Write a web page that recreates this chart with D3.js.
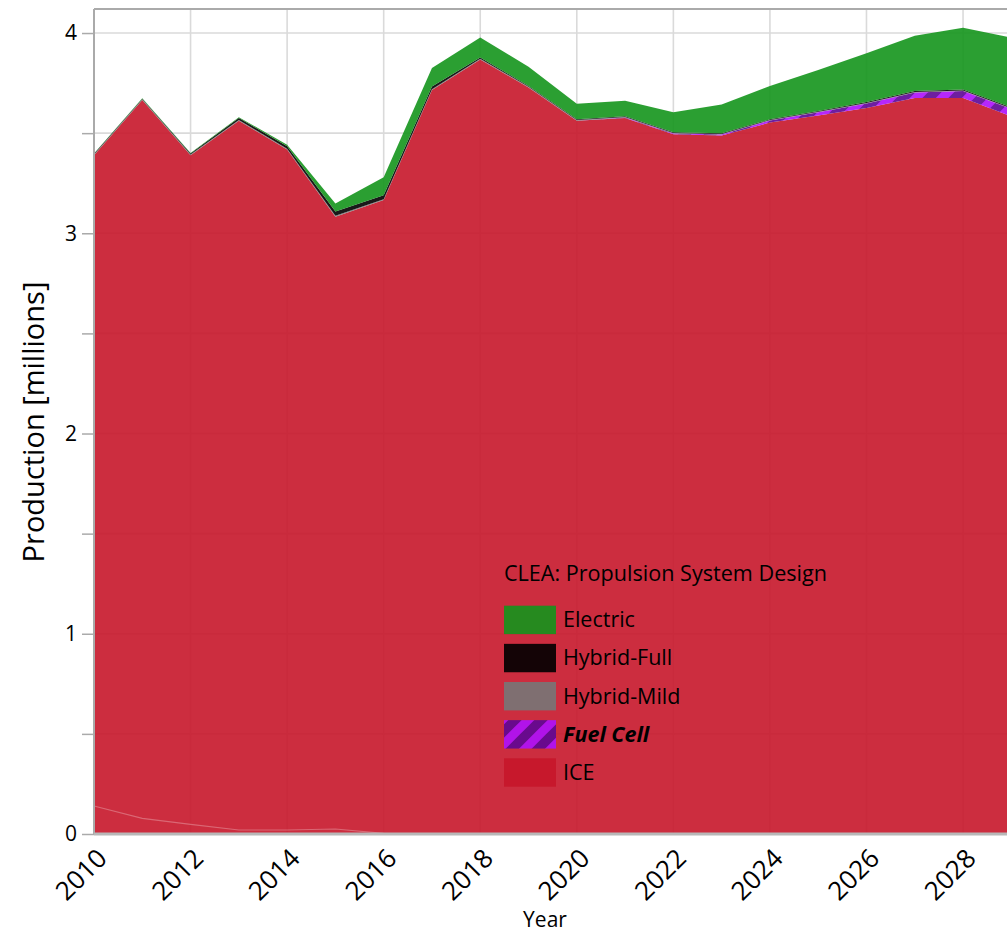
<!DOCTYPE html>
<html>
<head>
<meta charset="utf-8">
<script src="https://cdn.jsdelivr.net/npm/d3@7"></script>
<style>
  html, body { margin: 0; padding: 0; background: #fff; overflow: hidden; }
  svg { display: block; font-family: "Open Sans", "Noto Sans", sans-serif; }
</style>
</head>
<body>
<svg id="chart" width="1007" height="933"></svg>
<script>
// ---------------- data ----------------
const years = [2010, 2011, 2012, 2013, 2014, 2015, 2016, 2017, 2018, 2019,
               2020, 2021, 2022, 2023, 2024, 2025, 2026, 2027, 2028, 2029];
const seriesKeys = ["ICE", "Fuel Cell", "Hybrid-Mild", "Hybrid-Full", "Electric"]; // stack order bottom -> top
const ice        = [3.39, 3.665, 3.39, 3.562, 3.418, 3.083, 3.166, 3.715, 3.868, 3.728,
                    3.562, 3.576, 3.494, 3.488, 3.553, 3.588, 3.626, 3.675, 3.676, 3.583];
const fuelCell   = [0, 0, 0, 0, 0, 0, 0, 0, 0, 0,
                    0, 0.002, 0.004, 0.005, 0.01, 0.016, 0.022, 0.028, 0.034, 0.038];
const hybridMild = [0.004, 0.004, 0.004, 0.004, 0.004, 0.004, 0.004, 0.004, 0.004, 0.004,
                    0.004, 0.003, 0.003, 0.003, 0.003, 0.003, 0.003, 0.003, 0.003, 0.003];
const hybridFull = [0.003, 0.003, 0.004, 0.01, 0.012, 0.022, 0.02, 0.014, 0.006, 0.004,
                    0.003, 0.003, 0.003, 0.003, 0.003, 0.004, 0.004, 0.005, 0.005, 0.005];
const electric   = [0.002, 0.002, 0.003, 0.004, 0.008, 0.04, 0.09, 0.092, 0.1, 0.096,
                    0.078, 0.078, 0.1, 0.144, 0.166, 0.204, 0.244, 0.275, 0.308, 0.348];
// faint sub-band drawn inside the ICE layer
const iceLowerBand = [0.14, 0.078, 0.048, 0.02, 0.02, 0.025, 0.003, 0, 0, 0,
                      0, 0, 0, 0, 0, 0, 0, 0, 0, 0];
const yTicksMajor = [0, 1, 2, 3, 4];
const yGridValues = [0.5, 1, 1.5, 2, 2.5, 3, 3.5, 4];
const xTickYears = [2010, 2012, 2014, 2016, 2018, 2020, 2022, 2024, 2026, 2028];
const legendItems = ["Electric", "Hybrid-Full", "Hybrid-Mild", "Fuel Cell", "ICE"];
const legendTitle = "CLEA: Propulsion System Design";

// ---------------- layout ----------------
const colors = {
  "ICE": "#c6162a",
  "Fuel Cell": "url(#fcPattern)",
  "Hybrid-Mild": "#777777",
  "Hybrid-Full": "#000000",
  "Electric": "#14951c"
};
const svg = d3.select("#chart");
const plotLeft = 94, plotTop = 9, plotBottom = 834;
const x = d3.scaleLinear().domain([2010, 2029]).range([plotLeft, plotLeft + 48.28 * 19]);
const y = d3.scaleLinear().domain([0, 4.12]).range([plotBottom, plotTop]);

// pattern for Fuel Cell
const defs = svg.append("defs");
const pat = defs.append("pattern").attr("id", "fcPattern")
  .attr("patternUnits", "userSpaceOnUse").attr("width", 26).attr("height", 26);
pat.append("rect").attr("width", 26).attr("height", 26).attr("fill", "#5e0696");
pat.append("path").attr("d", "M-6.5,6.5 L6.5,-6.5 M0,26 L26,0 M19.5,32.5 L32.5,19.5")
  .attr("stroke", "#ae10fb").attr("stroke-width", 9);

// gridlines
svg.append("g").selectAll("line").data(yGridValues).join("line")
  .attr("x1", plotLeft).attr("x2", 1007).attr("y1", d => y(d)).attr("y2", d => y(d))
  .attr("stroke", "#dadada").attr("stroke-width", 1.6);
svg.append("g").selectAll("line").data(xTickYears.filter(d => d > 2010)).join("line")
  .attr("x1", d => x(d)).attr("x2", d => x(d)).attr("y1", plotTop).attr("y2", plotBottom)
  .attr("stroke", "#dadada").attr("stroke-width", 1.6);

// stacked areas
const table = years.map((yr, i) => ({
  year: yr, "ICE": ice[i], "Fuel Cell": fuelCell[i], "Hybrid-Mild": hybridMild[i],
  "Hybrid-Full": hybridFull[i], "Electric": electric[i]
}));
const stack = d3.stack().keys(seriesKeys);
const layers = stack(table);
const area = d3.area().x(d => x(d.data.year)).y0(d => y(d[0])).y1(d => y(d[1]));
svg.append("g").selectAll("path").data(layers).join("path")
  .attr("d", area).attr("fill", d => colors[d.key]).attr("fill-opacity", 0.9);

// faint sub-band line inside ICE
const lowIdx = iceLowerBand.map((v, i) => i).filter(i => i <= 7);
svg.append("path")
  .datum(lowIdx)
  .attr("d", d3.line().x(i => x(years[i])).y(i => y(iceLowerBand[i])))
  .attr("fill", "none").attr("stroke", "rgba(255,255,255,0.28)").attr("stroke-width", 1.2);

// frame / axes
svg.append("line").attr("x1", plotLeft).attr("x2", 1007).attr("y1", plotTop).attr("y2", plotTop)
  .attr("stroke", "#aaaaaa").attr("stroke-width", 2);
svg.append("line").attr("x1", plotLeft).attr("x2", plotLeft).attr("y1", plotTop).attr("y2", plotBottom)
  .attr("stroke", "#aaaaaa").attr("stroke-width", 2);
svg.append("line").attr("x1", plotLeft).attr("x2", 1007).attr("y1", plotBottom).attr("y2", plotBottom)
  .attr("stroke", "#b8b8b8").attr("stroke-width", 3);

// y axis
const yAxis = d3.axisLeft(y).tickValues(yGridValues.concat([0])).tickSize(12).tickPadding(5)
  .tickFormat(d => yTicksMajor.includes(d) ? d3.format("d")(d) : "");
const gy = svg.append("g").attr("transform", `translate(${plotLeft},0)`).call(yAxis);
gy.select(".domain").remove();
gy.selectAll(".tick line").attr("stroke", "#aaaaaa").attr("stroke-width", 1.5);
gy.selectAll(".tick text").attr("font-size", 21).attr("fill", "#000")
  .attr("font-family", "Open Sans, sans-serif");

// x axis
const xAxis = d3.axisBottom(x).tickValues(xTickYears).tickSize(0).tickFormat(d3.format("d"));
const gx = svg.append("g").attr("transform", `translate(0,${plotBottom})`).call(xAxis);
gx.select(".domain").remove();
gx.selectAll(".tick text")
  .attr("font-size", 26).attr("fill", "#000").attr("font-family", "Open Sans, sans-serif")
  .attr("text-anchor", "end").attr("dy", 0).attr("y", 0)
  .attr("transform", "translate(14,26) rotate(-45)");

// axis titles
svg.append("text").attr("transform", "translate(44,422) rotate(-90)")
  .attr("text-anchor", "middle").attr("font-size", 29).attr("fill", "#000").text("Production [millions]");
svg.append("text").attr("x", 545).attr("y", 927).attr("text-anchor", "middle")
  .attr("font-size", 21).attr("fill", "#000").text("Year");

// legend
const lg = svg.append("g");
lg.append("text").attr("x", 504).attr("y", 581).attr("font-size", 21.6).attr("fill", "#000").text(legendTitle);
const rowY = d3.scaleLinear().domain([0, 4]).range([605.7, 758.3]);
legendItems.forEach((k, i) => {
  lg.append("rect").attr("x", 504).attr("y", rowY(i)).attr("width", 52).attr("height", 28.4)
    .attr("fill", colors[k]).attr("fill-opacity", 0.9);
  lg.append("text").attr("x", 563).attr("y", rowY(i) + 21.5)
    .attr("font-size", 21.5).attr("fill", "#000")
    .attr("font-weight", k === "Fuel Cell" ? "bold" : "normal")
    .attr("font-style", k === "Fuel Cell" ? "italic" : "normal")
    .text(k);
});
</script>
</body>
</html>
